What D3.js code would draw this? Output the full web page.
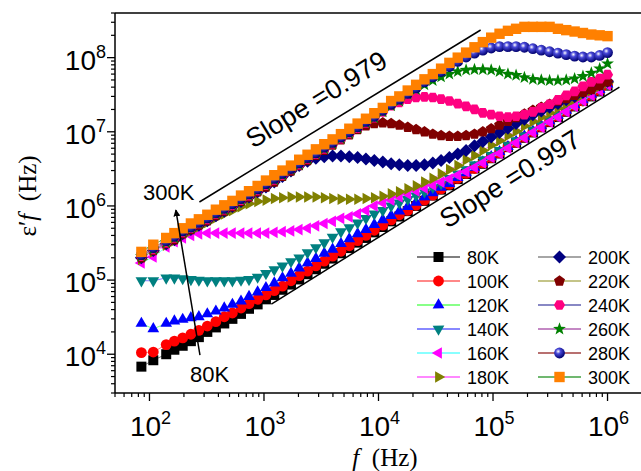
<!DOCTYPE html>
<html><head><meta charset="utf-8">
<script src="https://cdn.jsdelivr.net/npm/d3@7"></script>
<style>body{margin:0;background:#fff}svg{display:block}</style>
</head><body><svg id="c" width="641" height="471"></svg>
<script>
// ---------- DATA ----------
const freq = [85,108,140,165,195,230,270,320,380,450,530,630,740,880,1040,1230,1450,1720,2030,2400,2840,3360,3970,4700,5560,6570,7770,9190,10900,12900,15200,18000,21300,25200,29800,35200,41600,49200,58200,68900,81500,96400,114000,135000,159000,188000,223000,264000,312000,369000,436000,516000,610000,722000,854000,1000000];
const temps = ["80K","100K","120K","140K","160K","180K","200K","220K","240K","260K","280K","300K"];
const eps80K = [6.8e3,8.3e3,1.0e4,1.15e4,1.3e4,1.5e4,1.7e4,2.0e4,2.3e4,2.6e4,3.0e4,3.5e4,4.1e4,4.7e4,5.5e4,6.3e4,7.4e4,8.7e4,1.02e5,1.2e5,1.4e5,1.66e5,1.95e5,2.3e5,2.7e5,3.2e5,3.7e5,4.4e5,5.2e5,6.2e5,7.2e5,8.5e5,1.0e6,1.17e6,1.38e6,1.66e6,1.9e6,2.3e6,2.7e6,3.2e6,3.7e6,4.4e6,5.1e6,6.2e6,7.1e6,8.3e6,9.8e6,1.15e7,1.35e7,1.58e7,1.86e7,2.2e7,2.6e7,3.0e7,3.5e7,4.2e7];
const eps100K = [1.05e4,1.07e4,1.35e4,1.5e4,1.66e4,1.86e4,2.1e4,2.4e4,2.75e4,3.2e4,3.6e4,4.2e4,4.8e4,5.5e4,6.3e4,7.2e4,8.3e4,9.8e4,1.15e5,1.32e5,1.55e5,1.8e5,2.1e5,2.45e5,2.9e5,3.4e5,4.0e5,4.7e5,5.5e5,6.5e5,7.6e5,8.7e5,1.02e6,1.2e6,1.4e6,1.7e6,1.95e6,2.35e6,2.75e6,3.2e6,3.8e6,4.5e6,5.2e6,6.3e6,7.2e6,8.5e6,1.0e7,1.17e7,1.38e7,1.62e7,1.9e7,2.25e7,2.6e7,3.1e7,3.6e7,4.3e7];
const eps120K = [2.6e4,2.2e4,2.6e4,2.8e4,2.95e4,3.1e4,3.2e4,3.5e4,3.8e4,4.2e4,4.7e4,5.2e4,6.0e4,6.9e4,7.9e4,9.1e4,1.07e5,1.23e5,1.45e5,1.7e5,1.95e5,2.3e5,2.6e5,3.1e5,3.6e5,4.2e5,4.8e5,5.6e5,6.5e5,7.4e5,8.5e5,9.8e5,1.12e6,1.32e6,1.5e6,1.78e6,2.0e6,2.4e6,2.8e6,3.3e6,3.9e6,4.6e6,5.4e6,6.3e6,7.4e6,8.7e6,1.02e7,1.2e7,1.4e7,1.66e7,1.95e7,2.3e7,2.7e7,3.2e7,3.7e7,4.4e7];
const eps140K = [9.8e4,9.8e4,1.07e5,1.07e5,1.05e5,1.02e5,1.0e5,9.8e4,9.8e4,9.8e4,9.8e4,1.0e5,1.02e5,1.1e5,1.23e5,1.38e5,1.55e5,1.78e5,2.0e5,2.35e5,2.75e5,3.2e5,3.8e5,4.5e5,5.1e5,5.9e5,6.8e5,7.8e5,8.7e5,1.0e6,1.1e6,1.23e6,1.38e6,1.55e6,1.78e6,2.0e6,2.35e6,2.7e6,3.1e6,3.6e6,4.2e6,4.8e6,5.6e6,6.6e6,7.6e6,8.9e6,1.05e7,1.23e7,1.45e7,1.66e7,1.95e7,2.3e7,2.7e7,3.2e7,3.7e7,4.4e7];
const eps160K = [1.7e5,2.05e5,2.8e5,3.3e5,3.7e5,4.0e5,4.2e5,4.3e5,4.3e5,4.3e5,4.3e5,4.3e5,4.3e5,4.3e5,4.3e5,4.4e5,4.5e5,4.6e5,4.8e5,5.0e5,5.4e5,5.8e5,6.2e5,6.8e5,7.1e5,7.8e5,8.7e5,1.0e6,1.1e6,1.2e6,1.32e6,1.45e6,1.6e6,1.74e6,1.9e6,2.1e6,2.3e6,2.6e6,2.9e6,3.3e6,3.8e6,4.5e6,5.1e6,6.0e6,7.1e6,8.3e6,9.8e6,1.15e7,1.35e7,1.58e7,1.86e7,2.2e7,2.6e7,3.1e7,3.6e7,4.3e7];
const eps180K = [1.9e5,2.4e5,2.95e5,3.4e5,4.0e5,4.6e5,5.2e5,6.0e5,6.9e5,7.8e5,8.7e5,9.8e5,1.07e6,1.15e6,1.2e6,1.26e6,1.29e6,1.32e6,1.32e6,1.32e6,1.32e6,1.29e6,1.26e6,1.23e6,1.23e6,1.23e6,1.26e6,1.29e6,1.35e6,1.45e6,1.55e6,1.7e6,1.86e6,2.1e6,2.35e6,2.7e6,3.1e6,3.5e6,4.2e6,4.8e6,5.6e6,6.6e6,7.6e6,8.9e6,1.02e7,1.2e7,1.38e7,1.58e7,1.8e7,2.1e7,2.4e7,2.75e7,3.2e7,3.6e7,4.1e7,4.6e7];
const eps200K = [2.0e5,2.5e5,3.1e5,3.5e5,4.2e5,4.8e5,5.5e5,6.3e5,7.4e5,8.5e5,9.8e5,1.15e6,1.32e6,1.55e6,1.8e6,2.1e6,2.5e6,2.95e6,3.5e6,4.0e6,4.4e6,4.6e6,4.7e6,4.7e6,4.6e6,4.5e6,4.3e6,4.1e6,3.9e6,3.7e6,3.6e6,3.5e6,3.5e6,3.6e6,3.8e6,4.1e6,4.5e6,5.0e6,5.6e6,6.5e6,7.4e6,8.5e6,9.8e6,1.12e7,1.29e7,1.48e7,1.7e7,1.9e7,2.15e7,2.4e7,2.7e7,3.0e7,3.4e7,3.8e7,4.3e7,4.8e7];
const eps220K = [2.0e5,2.5e5,3.1e5,3.5e5,4.2e5,4.8e5,5.5e5,6.3e5,7.4e5,8.5e5,9.8e5,1.15e6,1.32e6,1.55e6,1.8e6,2.1e6,2.5e6,2.95e6,3.5e6,4.1e6,4.8e6,5.6e6,6.6e6,7.8e6,9.1e6,1.07e7,1.2e7,1.29e7,1.32e7,1.29e7,1.23e7,1.15e7,1.07e7,1.0e7,9.3e6,8.9e6,8.7e6,8.7e6,8.9e6,9.3e6,1.0e7,1.1e7,1.23e7,1.38e7,1.55e7,1.74e7,1.95e7,2.15e7,2.35e7,2.6e7,2.8e7,3.1e7,3.4e7,3.7e7,4.2e7,4.7e7];
const eps240K = [2.1e5,2.6e5,3.2e5,3.7e5,4.4e5,5.0e5,5.8e5,6.6e5,7.8e5,8.9e5,1.02e6,1.2e6,1.38e6,1.62e6,1.9e6,2.25e6,2.6e6,3.1e6,3.6e6,4.3e6,5.0e6,5.9e6,6.9e6,8.1e6,9.5e6,1.12e7,1.32e7,1.55e7,1.86e7,2.25e7,2.5e7,2.75e7,2.9e7,2.95e7,2.9e7,2.75e7,2.6e7,2.4e7,2.2e7,2.0e7,1.8e7,1.7e7,1.62e7,1.58e7,1.62e7,1.7e7,1.86e7,2.1e7,2.35e7,2.7e7,3.1e7,3.5e7,4.1e7,4.7e7,5.2e7,5.9e7];
const eps260K = [2.1e5,2.6e5,3.2e5,3.7e5,4.4e5,5.0e5,5.8e5,6.6e5,7.8e5,8.9e5,1.02e6,1.2e6,1.38e6,1.62e6,1.9e6,2.25e6,2.6e6,3.1e6,3.6e6,4.3e6,5.0e6,5.9e6,6.9e6,8.1e6,9.5e6,1.12e7,1.32e7,1.55e7,1.86e7,2.25e7,2.6e7,3.2e7,3.7e7,4.3e7,4.9e7,5.5e7,6.0e7,6.5e7,6.8e7,6.9e7,6.9e7,6.8e7,6.5e7,6.0e7,5.8e7,5.4e7,5.1e7,5.0e7,4.9e7,4.9e7,5.0e7,5.2e7,5.6e7,6.2e7,7.1e7,8.3e7];
const eps280K = [2.2e5,2.75e5,3.4e5,3.9e5,4.6e5,5.2e5,6.0e5,6.9e5,8.1e5,9.3e5,1.07e6,1.26e6,1.45e6,1.7e6,2.0e6,2.35e6,2.75e6,3.2e6,3.8e6,4.5e6,5.2e6,6.2e6,7.2e6,8.5e6,1.0e7,1.17e7,1.38e7,1.62e7,1.95e7,2.35e7,2.75e7,3.3e7,3.9e7,4.7e7,5.5e7,6.5e7,7.6e7,8.9e7,1.02e8,1.15e8,1.26e8,1.35e8,1.41e8,1.41e8,1.41e8,1.38e8,1.32e8,1.26e8,1.2e8,1.15e8,1.1e8,1.05e8,1.02e8,1.02e8,1.07e8,1.17e8];
const eps300K = [2.4e5,3.0e5,3.7e5,4.3e5,5.0e5,5.8e5,6.6e5,7.6e5,8.9e5,1.02e6,1.17e6,1.38e6,1.58e6,1.86e6,2.2e6,2.6e6,3.0e6,3.5e6,4.2e6,4.9e6,5.8e6,6.8e6,7.9e6,9.3e6,1.1e7,1.29e7,1.5e7,1.78e7,2.1e7,2.6e7,3.0e7,3.6e7,4.3e7,5.1e7,6.0e7,7.1e7,8.5e7,1.0e8,1.17e8,1.38e8,1.62e8,1.86e8,2.1e8,2.3e8,2.45e8,2.6e8,2.6e8,2.6e8,2.6e8,2.45e8,2.35e8,2.25e8,2.15e8,2.05e8,2.0e8,1.95e8];
const xTickExps = [2,3,4,5,6];
const yTickExps = [4,5,6,7,8];
const slopeLabels = ["Slope =0.979","Slope =0.997"];

// ---------- STYLE ----------
const seriesValues = [eps80K,eps100K,eps120K,eps140K,eps160K,eps180K,eps200K,eps220K,eps240K,eps260K,eps280K,eps300K];
const shapes = ["square","circle","triUp","triDown","triLeft","triRight","diamond","pentagon","hexagon","star","sphere","square"];
const fills = ["#000000","#ff0000","#0000ff","#008080","#ff00ff","#808000","#000080","#800000","#ff0080","#008000","#000099","#ff8000"];
const lineCols = ["#555555","#ff6060","#60ff60","#6060ff","#60ffff","#ff60ff","#888888","#b0b060","#6060b0","#b060b0","#a04040","#40a040"];

const svg = d3.select("#c");
const L = 115, R = 642, T = 13, B = 393;
const x = d3.scaleLog().domain([50, 2e6]).range([L, R]);
const y = d3.scaleLog().domain([3e3, 4e8]).range([B, T]);
const SANS = "'Liberation Sans', Arial, Helvetica, sans-serif";
const SERIF = "'Liberation Serif', 'Times New Roman', Times, serif";

const defs = svg.append("defs");
defs.append("clipPath").attr("id","clip").append("rect").attr("x",L).attr("y",T).attr("width",R-L).attr("height",B-T);
const g = defs.append("radialGradient").attr("id","sph").attr("cx","38%").attr("cy","35%").attr("r","65%");
g.append("stop").attr("offset","0%").attr("stop-color","#ffffff");
g.append("stop").attr("offset","35%").attr("stop-color","#4848d8");
g.append("stop").attr("offset","100%").attr("stop-color","#00006e");
defs.append("marker").attr("id","arr").attr("viewBox","0 0 10 10").attr("refX",9).attr("refY",5)
  .attr("markerWidth",7).attr("markerHeight",7).attr("markerUnits","userSpaceOnUse").attr("orient","auto")
  .append("path").attr("d","M0,0L10,5L0,10Z").attr("fill","#000");

function poly(n, r, rot){
  const pts=[]; for(let i=0;i<n;i++){const a=rot+2*Math.PI*i/n; pts.push([r*Math.cos(a), r*Math.sin(a)]);}
  return "M"+pts.map(p=>p[0].toFixed(2)+","+p[1].toFixed(2)).join("L")+"Z";
}
function shapePath(type, s){
  switch(type){
    case "square": return `M${-s},${-s}h${2*s}v${2*s}h${-2*s}Z`;
    case "circle": case "sphere": return `M${s*1.08},0A${s*1.08},${s*1.08} 0 1,1 ${-s*1.08},0A${s*1.08},${s*1.08} 0 1,1 ${s*1.08},0Z`;
    case "triUp": return poly(3, s*1.35, -Math.PI/2);
    case "triDown": return poly(3, s*1.35, Math.PI/2);
    case "triLeft": return poly(3, s*1.35, Math.PI);
    case "triRight": return poly(3, s*1.35, 0);
    case "diamond": return poly(4, s*1.3, -Math.PI/2);
    case "pentagon": return poly(5, s*1.15, -Math.PI/2);
    case "hexagon": return poly(6, s*1.12, 0);
    case "star": {
      const pts=[]; for(let i=0;i<10;i++){const r=i%2?s*0.55:s*1.35; const a=-Math.PI/2+Math.PI*i/5; pts.push([r*Math.cos(a),r*Math.sin(a)]);}
      return "M"+pts.map(p=>p[0].toFixed(2)+","+p[1].toFixed(2)).join("L")+"Z";
    }
  }
}

// ---------- DATA MARKS ----------
const plot = svg.append("g").attr("clip-path","url(#clip)");
const line = d3.line().x(d=>x(d[0])).y(d=>y(d[1]));
seriesValues.forEach((vals, si) => {
  const pts = freq.map((f,i)=>[f, vals[i]]);
  plot.append("path").attr("d", line(pts)).attr("fill","none").attr("stroke", lineCols[si]).attr("stroke-width",0.8);
  const size = si===11 ? 5.2 : 5;
  plot.selectAll(null).data(pts).enter().append("path")
    .attr("d", shapePath(shapes[si], size))
    .attr("transform", d=>`translate(${x(d[0]).toFixed(2)},${y(d[1]).toFixed(2)})`)
    .attr("fill", shapes[si]==="sphere" ? "url(#sph)" : fills[si]);
});

// ---------- AXES ----------
const ax = svg.append("g");
ax.append("line").attr("x1",L).attr("x2",R).attr("y1",T).attr("y2",T).attr("stroke","#000").attr("stroke-width",1.5);
ax.append("line").attr("x1",L).attr("x2",R).attr("y1",B).attr("y2",B).attr("stroke","#000").attr("stroke-width",1.5);
ax.append("line").attr("x1",L).attr("x2",L).attr("y1",T).attr("y2",B).attr("stroke","#000").attr("stroke-width",1.5);

const yMinor = [], xMinor = [];
for(let d=3; d<=8; d++) for(let k=2;k<=9;k++){const v=k*Math.pow(10,d); if(v>3e3*0.999 && v<4e8*1.001) yMinor.push(v);}
for(let d=1; d<=6; d++) for(let k=2;k<=9;k++){const v=k*Math.pow(10,d); if(v>50*0.999 && v<2e6*1.001) xMinor.push(v);}
ax.selectAll(null).data(yMinor).enter().append("line")
  .attr("x1",L).attr("x2",L-4).attr("y1",d=>y(d)).attr("y2",d=>y(d)).attr("stroke","#000").attr("stroke-width",1.2);
ax.selectAll(null).data(yTickExps).enter().append("line")
  .attr("x1",L).attr("x2",L-8).attr("y1",d=>y(Math.pow(10,d))).attr("y2",d=>y(Math.pow(10,d))).attr("stroke","#000").attr("stroke-width",1.3);
ax.selectAll(null).data(xMinor).enter().append("line")
  .attr("y1",B).attr("y2",B+4).attr("x1",d=>x(d)).attr("x2",d=>x(d)).attr("stroke","#000").attr("stroke-width",1.2);
ax.selectAll(null).data(xTickExps).enter().append("line")
  .attr("y1",B).attr("y2",B+8).attr("x1",d=>x(Math.pow(10,d))).attr("x2",d=>x(Math.pow(10,d))).attr("stroke","#000").attr("stroke-width",1.3);

function powLabel(sel, e){
  sel.append("tspan").text("10");
  sel.append("tspan").attr("dy",-12).attr("font-size",18).text(e);
}
ax.selectAll(null).data(yTickExps).enter().append("text")
  .attr("x", L-9).attr("y", d=>y(Math.pow(10,d))+12)
  .attr("text-anchor","end").attr("font-family",SANS).attr("font-size",28).attr("fill","#000")
  .each(function(d){powLabel(d3.select(this), d);});
ax.selectAll(null).data(xTickExps).enter().append("text")
  .attr("x", d=>x(Math.pow(10,d))+1).attr("y", 436)
  .attr("text-anchor","middle").attr("font-family",SANS).attr("font-size",28).attr("fill","#000")
  .each(function(d){powLabel(d3.select(this), d);});

const yt = svg.append("text").attr("transform","translate(36,196) rotate(-90)")
  .attr("text-anchor","middle").attr("font-family",SERIF).attr("font-size",25).attr("fill","#000");
yt.append("tspan").text("\u03b5\u2032");
yt.append("tspan").attr("font-style","italic").text("f");
yt.append("tspan").text("\u2002(Hz)");
const xt = svg.append("text").attr("x",385).attr("y",466)
  .attr("text-anchor","middle").attr("font-family",SERIF).attr("font-size",25).attr("fill","#000");
xt.append("tspan").attr("font-style","italic").text("f");
xt.append("tspan").text("\u2002(Hz)");

// ---------- ANNOTATIONS ----------
const ann = svg.append("g");
const slopeLines = [[[273,1.13e6],[7.8e4,2.36e8]], [[1160,4.75e4],[1.27e6,4.0e7]]];
const slopeAnchors = [[800,5.85e6],[3.96e4,4.9e5]];
slopeLines.forEach((ln,i)=>{
  const x1=x(ln[0][0]), y1=y(ln[0][1]), x2=x(ln[1][0]), y2=y(ln[1][1]);
  ann.append("line").attr("x1",x1).attr("y1",y1).attr("x2",x2).attr("y2",y2).attr("stroke","#000").attr("stroke-width",1.5);
  const ang = Math.atan2(y2-y1, x2-x1)*180/Math.PI;
  const ax0 = x(slopeAnchors[i][0]), ay0 = y(slopeAnchors[i][1]);
  ann.append("text").attr("transform",`translate(${ax0},${ay0}) rotate(${ang})`)
    .attr("font-family",SANS).attr("font-size",27).attr("fill","#000").text(slopeLabels[i]);
});
ann.append("line").attr("x1",x(276)).attr("y1",y(9.75e3)).attr("x2",x(170)).attr("y2",y(8.8e5))
  .attr("stroke","#000").attr("stroke-width",1.5).attr("marker-end","url(#arr)");
ann.append("text").attr("x",x(88)).attr("y",y(1.2e6)).attr("font-family",SANS).attr("font-size",22).attr("fill","#000").text(temps[11]);
ann.append("text").attr("x",x(226)).attr("y",y(4.2e3)).attr("font-family",SANS).attr("font-size",22).attr("fill","#000").text(temps[0]);

// ---------- LEGEND ----------
const leg = svg.append("g");
temps.forEach((t,i)=>{
  const col = Math.floor(i/6), row = i%6;
  const lx = col===0 ? 417 : 538;
  const ly = 257 + row*24;
  leg.append("line").attr("x1",lx).attr("x2",lx+43).attr("y1",ly).attr("y2",ly).attr("stroke",lineCols[i]).attr("stroke-width",1.3);
  leg.append("path").attr("d", shapePath(shapes[i], i===11?5.2:5)).attr("transform",`translate(${lx+21.5},${ly})`)
    .attr("fill", shapes[i]==="sphere" ? "url(#sph)" : fills[i]);
  leg.append("text").attr("x",lx+50).attr("y",ly+6.5).attr("font-family",SANS).attr("font-size",18).attr("fill","#000").text(t);
});
</script></body></html>
